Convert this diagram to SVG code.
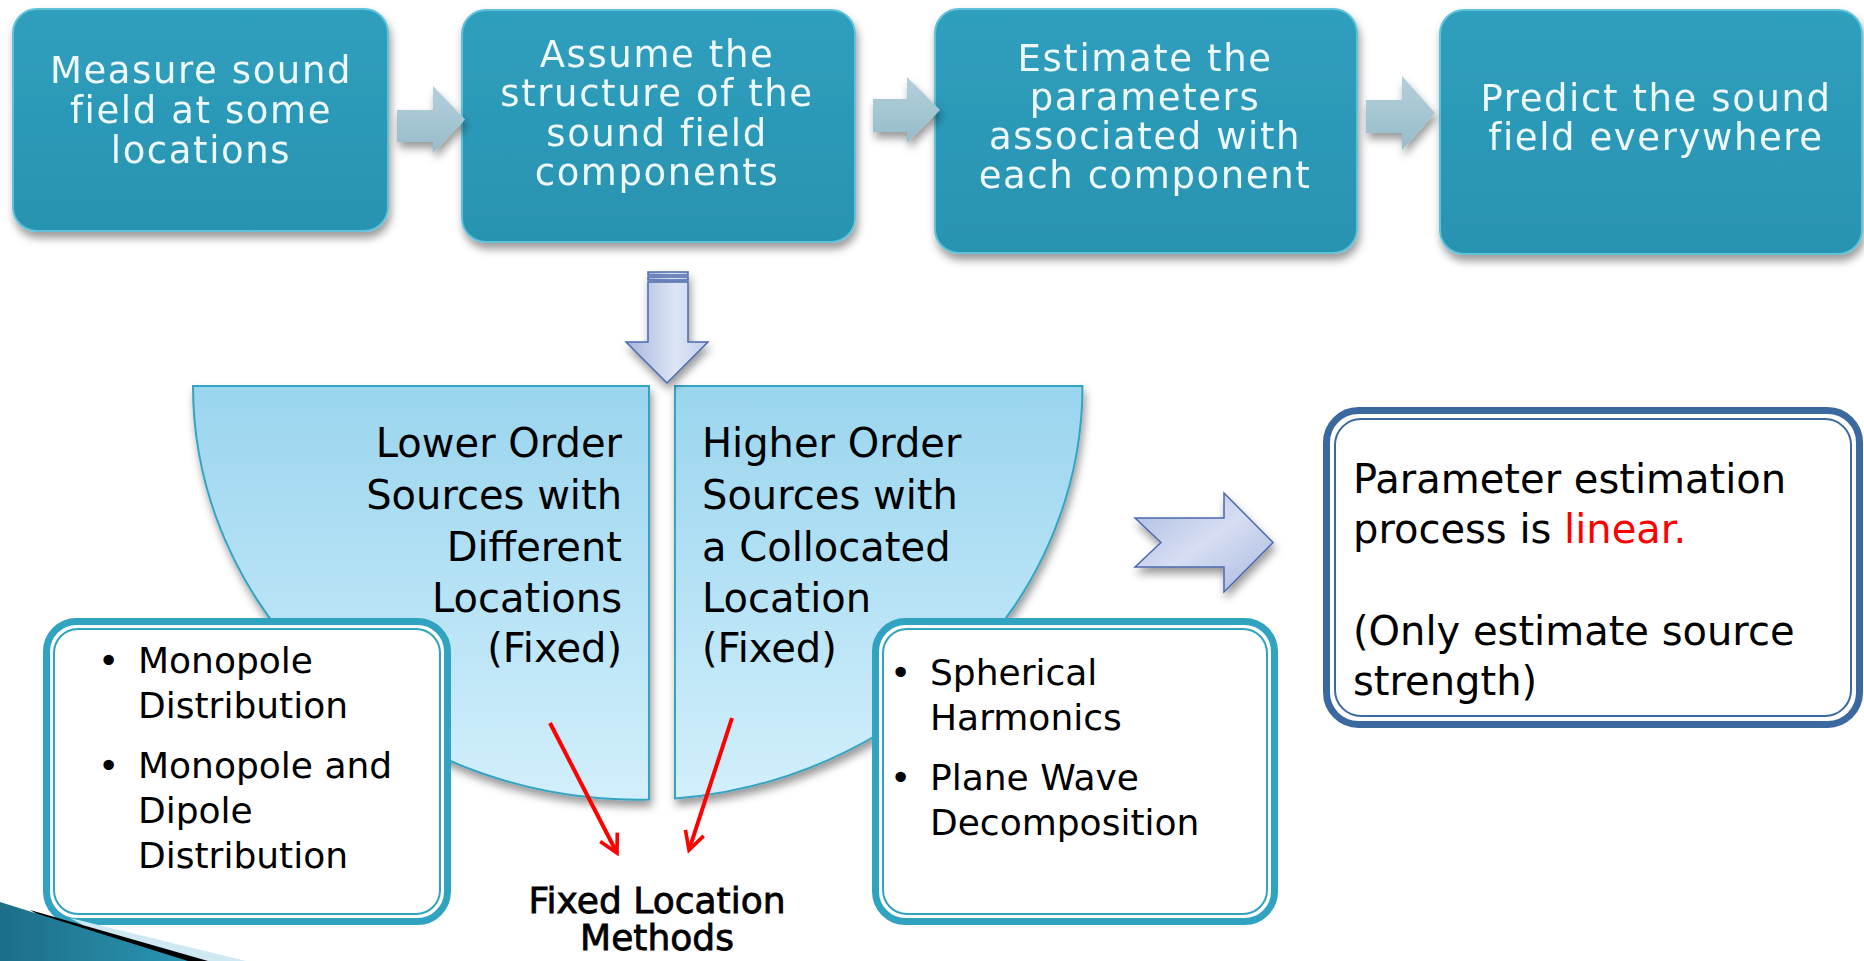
<svg xmlns="http://www.w3.org/2000/svg" width="1864" height="961" viewBox="0 0 1864 961">
  <defs>
    <style>
      .tb { font-family: "DejaVu Sans", Verdana, sans-serif; font-size: 37px; letter-spacing: 1.6px; fill: #eef8fb; text-anchor: middle; }
      .t40 { font-family: "DejaVu Sans", Verdana, sans-serif; font-size: 40px; fill: #000; }
      .t36 { font-family: "DejaVu Sans", Verdana, sans-serif; font-size: 36px; fill: #000; }
      .step { fill: url(#stepFill); stroke: #5fc2d9; stroke-width: 2; }
      .small-arrow { fill: url(#smallArrowFill); filter: url(#softShadow); }
      .bowl { fill: url(#bowlFill); stroke: #35a3c2; stroke-width: 2; filter: url(#softShadow); }
      .list-outer { fill: #fff; stroke: #2fa3bf; stroke-width: 7; }
      .list-inner { fill: none; stroke: #2fa3bf; stroke-width: 2; }
      .note-outer { fill: #fff; stroke: #3c68a0; stroke-width: 7; }
      .note-inner { fill: none; stroke: #3c68a0; stroke-width: 2; }
      .red-arrow { fill: none; stroke: #ff0000; stroke-width: 4; marker-end: url(#openHead); }
      .blue-arrow { fill: url(#blueArrowFill); stroke: #4c69ad; stroke-width: 1.5; filter: url(#softShadow); }
    </style>
    <linearGradient id="stepFill" x1="0" y1="0" x2="0" y2="1">
      <stop offset="0" stop-color="#2f9fbd"/>
      <stop offset="1" stop-color="#2893b1"/>
    </linearGradient>
    <linearGradient id="smallArrowFill" x1="0" y1="0" x2="0" y2="1">
      <stop offset="0" stop-color="#b3d0da"/>
      <stop offset="1" stop-color="#97bccb"/>
    </linearGradient>
    <linearGradient id="bowlFill" x1="0" y1="0" x2="0" y2="1">
      <stop offset="0" stop-color="#9ad5ee"/>
      <stop offset="1" stop-color="#d2effc"/>
    </linearGradient>
    <linearGradient id="blueArrowFill" x1="0" y1="0" x2="1" y2="1">
      <stop offset="0" stop-color="#aab9e0"/>
      <stop offset="0.5" stop-color="#d6def2"/>
      <stop offset="1" stop-color="#a9b8de"/>
    </linearGradient>
    <linearGradient id="downFill" x1="0" y1="0" x2="1" y2="0">
      <stop offset="0" stop-color="#a6b5dc"/>
      <stop offset="0.6" stop-color="#dde5f5"/>
      <stop offset="1" stop-color="#c3cfea"/>
    </linearGradient>
    <linearGradient id="cornerFill" x1="0" y1="0" x2="1" y2="0">
      <stop offset="0" stop-color="#1d6e88"/>
      <stop offset="1" stop-color="#2a95b2"/>
    </linearGradient>
    <filter id="softShadow" x="-10%" y="-10%" width="125%" height="130%">
      <feDropShadow dx="2" dy="6" stdDeviation="4" flood-color="#000" flood-opacity="0.4"/>
    </filter>
    <marker id="openHead" viewBox="0 0 20 20" refX="17" refY="10" markerWidth="6" markerHeight="6" markerUnits="strokeWidth" orient="auto">
      <path d="M2,2 L17,10 L2,18" fill="none" stroke="#ff0000" stroke-width="3"/>
    </marker>
  </defs>

  <rect width="1864" height="961" fill="#ffffff"/>

  <!-- process steps along the top -->
  <g id="step-measure" filter="url(#softShadow)">
    <rect class="step" x="13" y="9" width="375" height="222" rx="24"/>
    <text class="tb" x="201" y="83">Measure sound</text>
    <text class="tb" x="201" y="123">field at some</text>
    <text class="tb" x="201" y="163">locations</text>
  </g>
  <g id="step-assume" filter="url(#softShadow)">
    <rect class="step" x="462" y="10" width="393" height="232" rx="24"/>
    <text class="tb" x="657" y="67">Assume the</text>
    <text class="tb" x="657" y="106">structure of the</text>
    <text class="tb" x="657" y="146">sound field</text>
    <text class="tb" x="657" y="185">components</text>
  </g>
  <g id="step-estimate" filter="url(#softShadow)">
    <rect class="step" x="935" y="9" width="422" height="244" rx="24"/>
    <text class="tb" x="1145" y="71">Estimate the</text>
    <text class="tb" x="1145" y="110">parameters</text>
    <text class="tb" x="1145" y="149">associated with</text>
    <text class="tb" x="1145" y="188">each component</text>
  </g>
  <g id="step-predict" filter="url(#softShadow)">
    <rect class="step" x="1440" y="10" width="422" height="244" rx="24"/>
    <text class="tb" x="1656" y="111">Predict the sound</text>
    <text class="tb" x="1656" y="150">field everywhere</text>
  </g>

  <!-- split bowl: two source families -->
  <g id="lower-order">
    <path class="bowl" d="M193,386 H649 V799.5 A445,414 0 0 1 193,386 Z"/>
    <g class="t40" text-anchor="end">
      <text x="622" y="457">Lower Order</text>
      <text x="622" y="509">Sources with</text>
      <text x="622" y="561">Different</text>
      <text x="622" y="612">Locations</text>
      <text x="622" y="662">(Fixed)</text>
    </g>
  </g>
  <g id="higher-order">
    <path class="bowl" d="M675,386 H1082.5 A445,414 0 0 1 675,798.5 Z"/>
    <g class="t40">
      <text x="702" y="457">Higher Order</text>
      <text x="702" y="509">Sources with</text>
      <text x="702" y="561">a Collocated</text>
      <text x="702" y="612">Location</text>
      <text x="702" y="662">(Fixed)</text>
    </g>
  </g>

  <!-- example lists -->
  <g id="low-order-list">
    <rect class="list-outer" x="46.5" y="621.5" width="401" height="300" rx="30"/>
    <rect class="list-inner" x="54" y="629" width="386" height="285" rx="24"/>
    <g class="t36">
      <text x="98" y="673">•</text>
      <text x="138" y="673">Monopole</text>
      <text x="138" y="718">Distribution</text>
      <text x="98" y="778">•</text>
      <text x="138" y="778">Monopole and</text>
      <text x="138" y="823">Dipole</text>
      <text x="138" y="868">Distribution</text>
    </g>
  </g>
  <g id="high-order-list">
    <rect class="list-outer" x="875.5" y="621.5" width="399" height="300" rx="30"/>
    <rect class="list-inner" x="883" y="629" width="384" height="285" rx="24"/>
    <g class="t36">
      <text x="890" y="685">•</text>
      <text x="930" y="685">Spherical</text>
      <text x="930" y="730">Harmonics</text>
      <text x="890" y="790">•</text>
      <text x="930" y="790">Plane Wave</text>
      <text x="930" y="835">Decomposition</text>
    </g>
  </g>

  <!-- conclusion note -->
  <g id="linear-note">
    <rect class="note-outer" x="1326.5" y="410.5" width="533" height="314" rx="32"/>
    <rect class="note-inner" x="1335" y="419" width="516" height="297" rx="26"/>
    <g class="t40">
      <text x="1353" y="493">Parameter estimation</text>
      <text x="1353" y="543">process is <tspan fill="#ff0000">linear.</tspan></text>
      <text x="1353" y="645">(Only estimate source</text>
      <text x="1353" y="695">strength)</text>
    </g>
  </g>

  <!-- caption under the bowl -->
  <g id="fixed-caption">
    <g class="t36" text-anchor="middle" stroke="#000" stroke-width="0.8">
      <text x="657" y="913">Fixed Location</text>
      <text x="657" y="950">Methods</text>
    </g>
  </g>

  <!-- connectors -->
  <g id="connectors">
    <polygon class="small-arrow" points="397,110 433,110 433,86 465,119.5 433,153 433,142 397,142"/>
    <polygon class="small-arrow" points="873,99 907,99 907,77 940,110 907,143 907,132 873,132"/>
    <polygon class="small-arrow" points="1366,100 1402,100 1402,76 1435,113 1402,150 1402,133 1366,133"/>

    <g filter="url(#softShadow)" fill="url(#downFill)" stroke="#4c69ad" stroke-width="1.5">
      <rect x="648" y="272" width="40" height="3"/>
      <rect x="648" y="277" width="40" height="3"/>
      <polygon points="648,282 688,282 688,342 708,342 667,383 626,342 648,342"/>
    </g>

    <polygon class="blue-arrow" points="1135,518 1224,518 1224,493 1273,542.5 1224,592 1224,567 1135,567 1161,542.5"/>

    <line class="red-arrow" x1="550" y1="723" x2="617" y2="853"/>
    <line class="red-arrow" x1="732" y1="718" x2="689" y2="850"/>
  </g>

  <!-- corner swoosh -->
  <polygon points="70,918 246,961 150,961" fill="#cfe9f3"/>
  <polygon points="30,910 208,961 120,961" fill="#000"/>
  <polygon points="0,902 188,961 0,961" fill="url(#cornerFill)"/>
</svg>
